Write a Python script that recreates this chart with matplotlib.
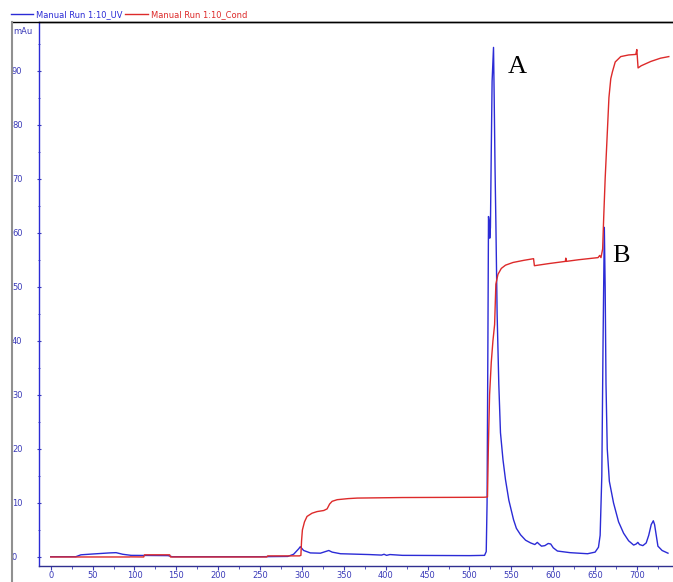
import matplotlib
matplotlib.use("Agg")
import matplotlib.pyplot as plt
from matplotlib.lines import Line2D
from matplotlib.font_manager import FontProperties
from matplotlib.ticker import MultipleLocator

# UV absorbance trace (mAu) against run volume
uv_x = [0, 30, 36, 50, 70, 78, 86, 96, 140, 145, 250, 283, 290, 296, 298, 302,
        310, 322, 328, 332, 336, 346, 380, 395, 398, 401, 405, 420, 500, 518,
        520, 521, 522, 522.7, 523.5, 524.2, 525, 526, 527, 528.7, 529.5, 530.5,
        531.5, 533, 535, 537, 540, 543, 547, 552.6, 556, 561, 567, 573, 578,
        581, 583, 586, 590, 594, 597, 600, 605, 620, 641, 650, 654, 656, 658,
        659.5, 661, 662, 663, 664.5, 667, 672, 678, 684, 690, 696, 699, 701,
        703, 707, 711, 714, 717, 719.5, 721, 723, 725, 730, 737]
uv_y = [0.05, 0.05, 0.4, 0.55, 0.75, 0.8, 0.5, 0.3, 0.25, 0.05, 0.05, 0.1, 0.5,
        1.5, 1.9, 1.2, 0.75, 0.7, 1.0, 1.2, 0.9, 0.6, 0.45, 0.35, 0.5, 0.3,
        0.45, 0.3, 0.25, 0.3, 1.0, 10, 40, 63, 62, 59, 61, 75, 88, 94.3, 85,
        72, 62, 45, 32, 23, 18, 14.3, 10.5, 6.9, 5.3, 4.1, 3.1, 2.6, 2.3, 2.7,
        2.4, 2.0, 2.1, 2.5, 2.4, 1.7, 1.1, 0.8, 0.6, 0.9, 1.8, 4, 15, 40, 61,
        50, 32, 20, 14, 10, 6.5, 4.4, 3.0, 2.2, 2.4, 2.7, 2.3, 2.1, 2.6, 4.0,
        6.0, 6.7, 6.0, 4.0, 2.0, 1.2, 0.7]

# conductivity trace on the same scale
cond_x = [0, 94, 95, 111, 112, 142, 143, 258, 259, 297, 298.7, 299.5, 300.5,
          303, 306, 312, 318, 326, 330, 333, 336, 342, 355, 366, 420, 517,
          521.5, 522.5, 524, 526, 528, 530, 530.8, 531.5, 534, 538, 543, 552,
          565, 576.5, 577.5, 595, 614.5, 615, 615.5, 630, 653.5, 655.5, 657,
          659, 660.3, 662, 664.7, 666.5, 668.7, 670.7, 674, 680.6, 690, 698.6,
          699.8, 701.3, 705, 716.5, 728, 738]
cond_y = [0, 0, 0.02, 0.0, 0.4, 0.4, 0.0, 0.0, 0.2, 0.2, 0.3, 3, 5, 6.5, 7.5,
          8.1, 8.4, 8.6, 8.9, 9.8, 10.3, 10.6, 10.8, 10.9, 11.0, 11.05, 11.1,
          20, 30, 36, 40, 43, 47, 50.5, 52.3, 53.4, 54.0, 54.5, 54.9, 55.2,
          53.9, 54.3, 54.7, 55.3, 54.7, 55.0, 55.4, 55.8, 55.4, 57, 63, 70,
          79, 85, 88.5, 89.8, 91.6, 92.6, 92.9, 93.0, 93.9, 90.5, 90.9, 91.7,
          92.3, 92.6]

peak_labels = ["A", "B"]
peak_pos = [(546, 89.6), (671, 54.6)]

uv_color = "#2b2bd6"
cond_color = "#dd2a2a"
tick_color = "#3a3ab8"
small = FontProperties(family=["DejaVu Sans"], stretch="condensed", size=6.7)

fig = plt.figure(figsize=(6.73, 5.82), dpi=100)
ax = fig.add_axes([39 / 673, 16 / 582, 634 / 673, 544 / 582])

ax.plot(uv_x, uv_y, color=uv_color, lw=1.0, label="Manual Run 1:10_UV")
ax.plot(cond_x, cond_y, color=cond_color, lw=1.0, label="Manual Run 1:10_Cond")

ax.set_xlim(-14, 743)
ax.set_ylim(-1.67, 99)

ax.xaxis.set_major_locator(MultipleLocator(50))
ax.xaxis.set_minor_locator(MultipleLocator(25))
ax.yaxis.set_major_locator(MultipleLocator(10))
ax.yaxis.set_minor_locator(MultipleLocator(5))

ax.tick_params(axis="both", which="both", colors=tick_color)
ax.tick_params(axis="x", which="major", length=3, pad=0.5)
ax.tick_params(axis="x", which="minor", length=2)
ax.tick_params(axis="y", which="major", length=3, direction="inout", pad=18)
ax.tick_params(axis="y", which="minor", length=2, direction="inout")
for lbl in ax.get_xticklabels() + ax.get_yticklabels():
    lbl.set_fontproperties(small)
for lbl in ax.get_yticklabels():
    lbl.set_horizontalalignment("left")

ax.spines["left"].set_color(uv_color)
ax.spines["bottom"].set_color("#303090")
ax.spines["right"].set_visible(False)
ax.spines["top"].set_color("black")
for s in ax.spines.values():
    s.set_linewidth(1.0)

for lab, (px, py) in zip(peak_labels, peak_pos):
    ax.text(px, py, lab, fontsize=19, family=["Liberation Serif", "DejaVu Serif"],
            ha="left", va="baseline", color="black")

# frame lines of the report window
fig.add_artist(Line2D([12 / 673, 1], [1 - 22 / 582, 1 - 22 / 582],
                      color="black", lw=1.0, transform=fig.transFigure))
fig.add_artist(Line2D([12 / 673, 12 / 673], [0, 1 - 22 / 582],
                      color="#909090", lw=1.5, transform=fig.transFigure))

fig.text(13 / 673, 1 - 31 / 582, "mAu", color=tick_color,
         fontproperties=small, va="center")

leg = fig.legend(loc="center left", bbox_to_anchor=(11 / 673, 1 - 15 / 582),
                 ncol=2, frameon=False, handlelength=2.4,
                 handletextpad=0.3, columnspacing=0.3, borderpad=0,
                 borderaxespad=0, prop=small)
for txt, c in zip(leg.get_texts(), [uv_color, cond_color]):
    txt.set_color(c)

fig.savefig("out.png", dpi=100)
